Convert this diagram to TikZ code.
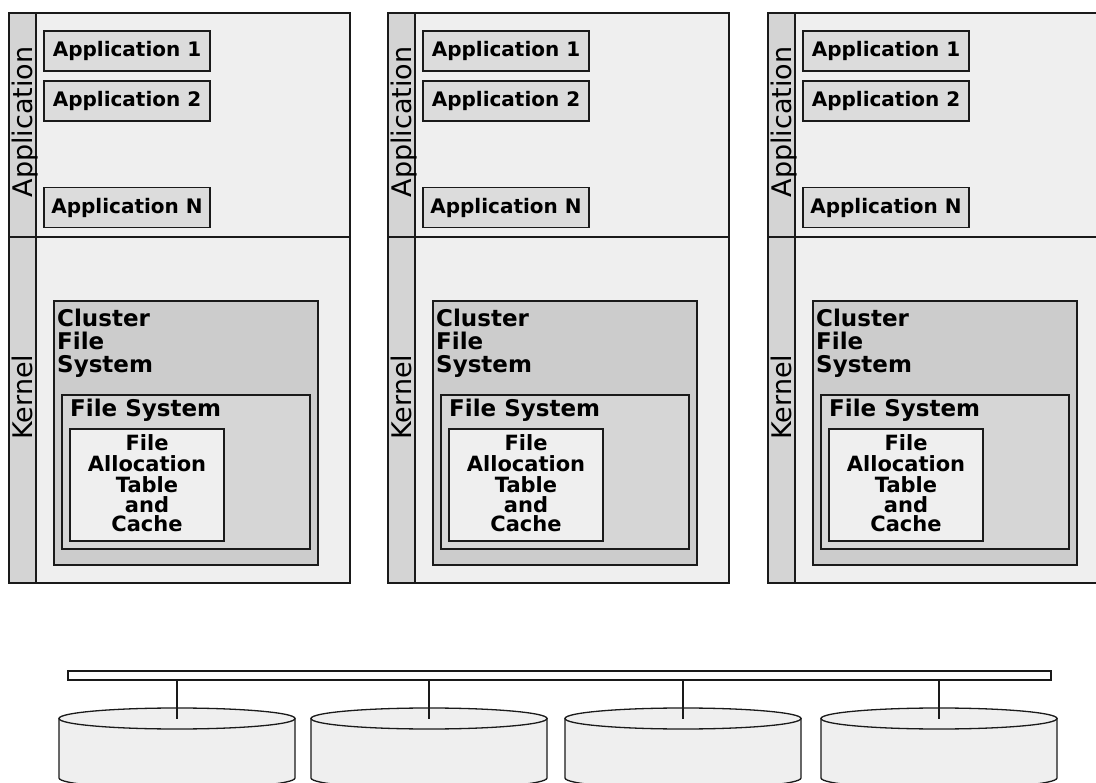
\documentclass[tikz,border=0pt]{standalone}
\usepackage{fontspec}
\setmainfont{DejaVu Sans}
\definecolor{panelgray}{HTML}{EFEFEF}
\definecolor{stripgray}{HTML}{D4D4D4}
\definecolor{appgray}{HTML}{DCDCDC}
\definecolor{clgray}{HTML}{CCCCCC}
\definecolor{fsgray}{HTML}{D6D6D6}
\definecolor{linecol}{HTML}{1A1A1A}
\begin{document}
\begin{tikzpicture}[x=1pt,y=-1pt,
  box/.style={draw=linecol, line width=1.3pt, inner sep=0pt, outer sep=0pt, anchor=north west},
  section/.style={box, fill=panelgray, minimum width=341pt},
  stripbox/.style={box, fill=stripgray, minimum width=27pt},
  appbox/.style={draw=linecol, line width=1.3pt, inner sep=0pt, fill=appgray,
    minimum width=166pt, minimum height=40pt, font=\bfseries\fontsize{20}{22}\selectfont},
  clbox/.style={box, fill=clgray, minimum width=264pt, minimum height=264pt},
  fsbox/.style={box, fill=fsgray, minimum width=248pt, minimum height=154pt},
  fatbox/.style={box, fill=panelgray, minimum width=154pt, minimum height=112pt},
  cltext/.style={anchor=base west, inner sep=0pt, font=\bfseries\fontsize{23}{23}\selectfont},
  fattext/.style={anchor=base, inner sep=0pt, font=\bfseries\fontsize{21}{21}\selectfont},
  lbl/.style={rotate=90, anchor=base, inner sep=0pt, font=\fontsize{27}{27}\selectfont},
  diskline/.style={draw=linecol, line width=1.3pt, fill=panelgray},
  busbox/.style={box, fill=white, minimum width=983pt, minimum height=9pt},
  conn/.style={draw=linecol, line width=1.5pt}
]
\useasboundingbox (0,0) rectangle (1096,783);
\clip (0,0) rectangle (1096,783);
\fill[white] (0,0) rectangle (1096,783);

\foreach \i/\dx in {1/0, 2/379, 3/759} {
  % sections
  \node[section, minimum height=224pt] (appsec\i) at (9+\dx,13) {};
  \node[section, minimum height=346pt] (kersec\i) at (9+\dx,237) {};
  \node[stripbox, minimum height=224pt] (appstrip\i) at (9+\dx,13) {};
  \node[stripbox, minimum height=346pt] (kerstrip\i) at (9+\dx,237) {};
  \node[lbl] (applbl\i) at (32+\dx,122) {Application};
  \node[lbl] (kerlbl\i) at (32+\dx,397) {Kernel};
  % applications
  \node[appbox] (appA\i) at (127+\dx,51) {Application 1};
  \node[appbox] (appB\i) at (127+\dx,101) {Application 2};
  \node[appbox] (appN\i) at (127+\dx,207.5) {Application N};
  % kernel boxes
  \node[clbox] (cfs\i) at (54+\dx,301) {};
  \node[cltext] (cfsA\i) at (57+\dx,327) {Cluster};
  \node[cltext] (cfsB\i) at (57+\dx,350) {File};
  \node[cltext] (cfsC\i) at (57+\dx,373) {System};
  \node[fsbox] (fs\i) at (62+\dx,395) {};
  \node[cltext] (fsT\i) at (70+\dx,417) {File System};
  \node[fatbox] (fat\i) at (70+\dx,429) {};
  \node[fattext] (fatA\i) at (147+\dx,451) {File};
  \node[fattext] (fatB\i) at (147+\dx,472) {Allocation};
  \node[fattext] (fatC\i) at (147+\dx,493) {Table};
  \node[fattext] (fatD\i) at (147+\dx,512.5) {and};
  \node[fattext] (fatE\i) at (147+\dx,532) {Cache};
}

% bus
\node[busbox] (bus) at (68,671) {};

% disks
\foreach \n/\cx in {1/177, 2/429, 3/683, 4/939} {
  \coordinate (d\n) at (\cx,718.5);
  \draw[diskline] (\cx-118,718.5) -- (\cx-118,778)
     arc[start angle=180, end angle=0, x radius=118, y radius=10.5]
     -- (\cx+118,718.5) -- cycle;
  \draw[diskline] (d\n) ellipse[x radius=118, y radius=10.5];
  \draw[conn] (bus.south -| d\n) -- (d\n);
}
\end{tikzpicture}
\end{document}
